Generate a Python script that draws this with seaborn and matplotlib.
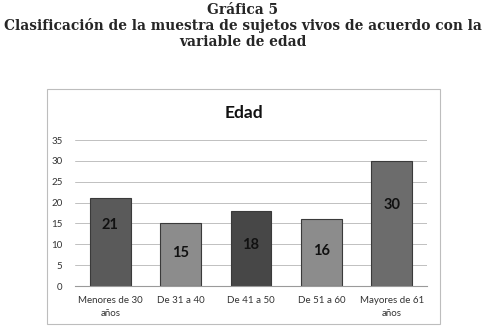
import matplotlib
matplotlib.use("Agg")
import matplotlib.pyplot as plt
from matplotlib.patches import Rectangle
import seaborn as sns
import pandas as pd

# Data
categories = ["Menores de 30\naños", "De 31 a 40", "De 41 a 50", "De 51 a 60", "Mayores de 61\naños"]
counts = [21, 15, 18, 16, 30]
y_ticks = [0, 5, 10, 15, 20, 25, 30, 35]

bar_colours = ["#5a5a5a", "#8c8c8c", "#474747", "#8c8c8c", "#6c6c6c"]
label_frac = [0.70, 0.53, 0.54, 0.52, 0.65]

sns.set_style("white")
plt.rcParams["font.family"] = ["Lato", "DejaVu Sans"]

W, H = 485, 330
fig = plt.figure(figsize=(W / 100, H / 100), dpi=100)

# Figure caption
cap = dict(ha="center", va="baseline", family="DejaVu Serif", fontweight="bold", fontsize=9.9)
fig.text(0.5, 1 - 14 / H, "Gráfica 5", **cap)
fig.text(0.5, 1 - 30 / H, "Clasificación de la muestra de sujetos vivos de acuerdo con la", **cap)
fig.text(0.5, 1 - 46 / H, "variable de edad", **cap)

# Chart frame
fig.patches.append(Rectangle((47 / W, 1 - 324 / H), (440 - 47) / W, (324 - 89) / H,
                             transform=fig.transFigure, fill=False, edgecolor="#bdbdbd", lw=0.8))
fig.text(244 / W, 1 - 113 / H, "Edad", ha="center", va="center", fontweight="bold",
         fontsize=12.5, color="#111111")

# Plot area
ax = fig.add_axes([75 / W, 1 - 286 / H, (427 - 75) / W, (286 - 140) / H])
df = pd.DataFrame({"cat": categories, "n": counts})
sns.barplot(data=df, x="cat", y="n", hue="cat", palette=bar_colours, legend=False,
            width=0.58, ax=ax, edgecolor="#3a3a3a", linewidth=0.8, saturation=1)

for i, (v, f) in enumerate(zip(counts, label_frac)):
    ax.text(i, v * f, str(v), ha="center", va="center", fontweight="bold",
            fontsize=10.5, color="#111111")

# Format axes
ax.set_ylim(0, 35)
ax.set_yticks(y_ticks)
ax.set_xlim(-0.5, len(categories) - 0.5)
ax.yaxis.grid(True, color="#c0c0c0", lw=0.7)
ax.set_axisbelow(True)
for s in ["top", "right", "left"]:
    ax.spines[s].set_visible(False)
ax.spines["bottom"].set_color("#9a9a9a")
ax.spines["bottom"].set_linewidth(0.8)
ax.tick_params(axis="both", length=0, labelsize=7, colors="#333333")
ax.tick_params(axis="x", pad=7)
ax.tick_params(axis="y", pad=9)
for lbl in ax.get_xticklabels():
    lbl.set_linespacing(1.6)
ax.set_xlabel("")
ax.set_ylabel("")

fig.savefig("out.png", dpi=100)
